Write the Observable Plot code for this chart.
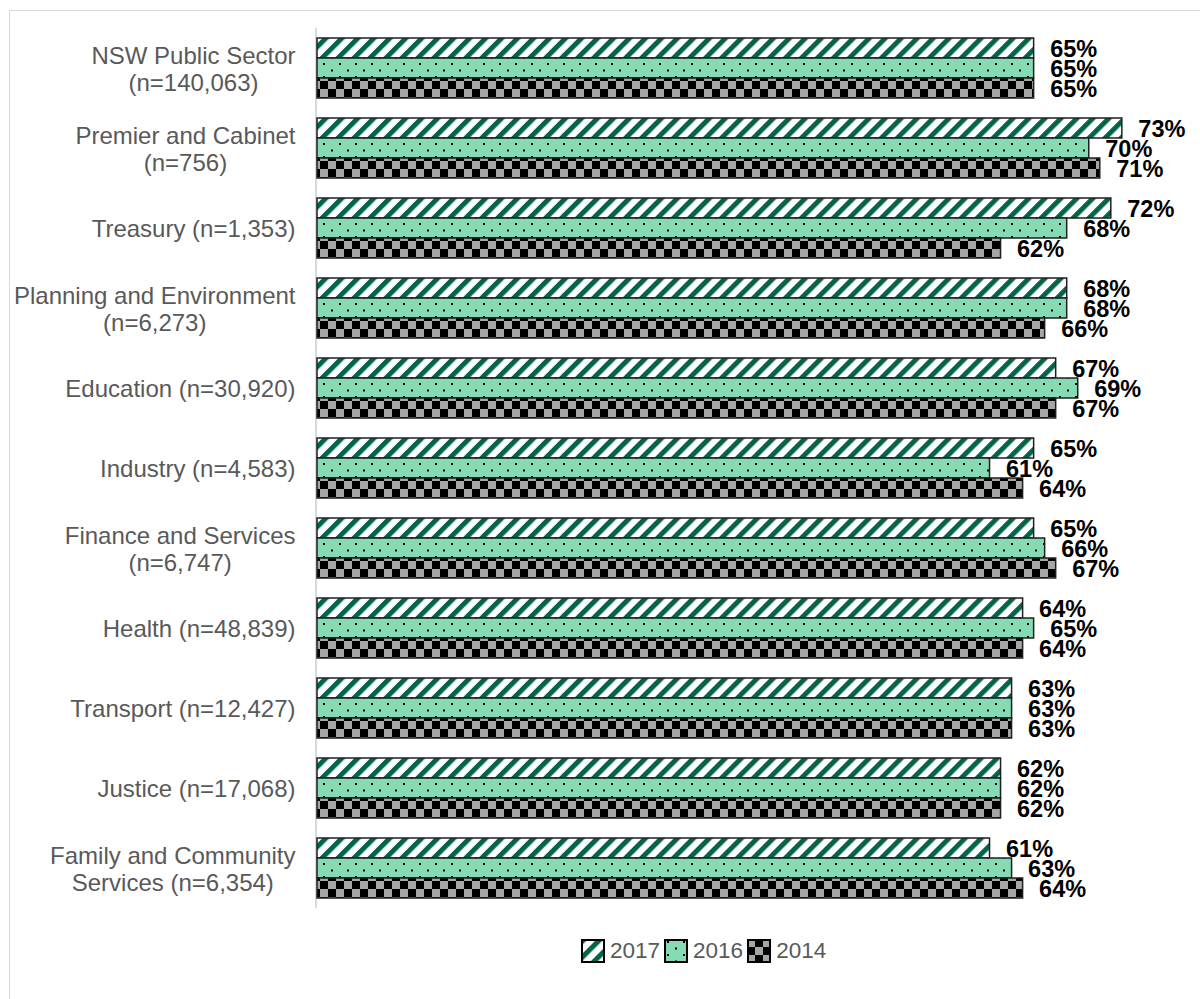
<!DOCTYPE html>
<html>
<head>
<meta charset="utf-8">
<script src="https://cdn.jsdelivr.net/npm/d3@7"></script>
<script src="https://cdn.jsdelivr.net/npm/@observablehq/plot@0.6"></script>
<style>
  html, body { margin: 0; padding: 0; background: #fff; width: 1200px; height: 999px; overflow: hidden; }
  #wrap { position: relative; width: 1200px; height: 999px; font-family: 'Liberation Sans', Arial, sans-serif; }
  #frame { position: absolute; left: 9px; top: 10px; width: 1300px; height: 1100px; border: 1.5px solid #d9d9d9; box-sizing: border-box; }
  #chart { position: absolute; left: 0; top: 0; }
  #legend { position: absolute; left: 581px; top: 939px; display: flex; align-items: center; height: 24px; font-size: 22.5px; color: #595959; }
  #legend span.t { margin-left: 5px; margin-right: 4px; line-height: 24px; }
  #legend svg { display: block; }
</style>
</head>
<body>
<div id="wrap">
  <div id="frame"></div>
  <div id="chart"></div>
  <div id="legend"></div>
</div>
<script>
// ---- data ----
const categories = [
  "NSW Public Sector\n(n=140,063)",
  "Premier and Cabinet\n(n=756)",
  "Treasury (n=1,353)",
  "Planning and Environment\n(n=6,273)",
  "Education (n=30,920)",
  "Industry (n=4,583)",
  "Finance and Services\n(n=6,747)",
  "Health (n=48,839)",
  "Transport (n=12,427)",
  "Justice (n=17,068)",
  "Family and Community\nServices (n=6,354)"
];
const years = ["2017", "2016", "2014"];
const values2017 = [65, 73, 72, 68, 67, 65, 65, 64, 63, 62, 61];
const values2016 = [65, 70, 68, 68, 69, 61, 66, 65, 63, 62, 63];
const values2014 = [65, 71, 62, 66, 67, 64, 67, 64, 63, 62, 64];

const seriesValues = {"2017": values2017, "2016": values2016, "2014": values2014};
const rows = [];
categories.forEach((c, i) => {
  years.forEach(y => rows.push({category: c, year: y, value: seriesValues[y][i]}));
});

const fills = {"2017": "url(#pat2017)", "2016": "url(#pat2016)", "2014": "url(#pat2014)"};
const FONT = "'Liberation Sans', Arial, sans-serif";

// text measurement for centred multi-line category labels (right-aligned block)
const ctx = document.createElement("canvas").getContext("2d");
ctx.font = "24px 'Liberation Sans'";
const labelRight = 295;
const marginLeft = 317;

const labelMarks = categories.map(c => {
  const w = d3.max(c.split("\n"), s => ctx.measureText(s).width);
  return Plot.text([c], {
    fy: d => d,
    text: d => d,
    frameAnchor: "left",
    textAnchor: "middle",
    lineAnchor: "middle",
    lineHeight: 1.12,
    dx: labelRight - w / 2 - marginLeft,
    fontSize: 24,
    fill: "#595959"
  });
});

const plot = Plot.plot({
  width: 1200,
  height: 930,
  marginLeft: marginLeft,
  marginRight: 1,
  marginTop: 28,
  marginBottom: 22,
  style: {fontFamily: FONT, background: "transparent", overflow: "visible"},
  x: {domain: [0, 80], axis: null},
  y: {domain: years, padding: 0, axis: null},
  fy: {domain: categories, paddingInner: 0.225, paddingOuter: 0.1125, axis: null, label: null},
  marks: [
    Plot.ruleX([0], {stroke: "#d9d9d9", strokeWidth: 2, dx: -1.5, insetTop: -9, insetBottom: -9}),
    Plot.barX(rows, {
      x: "value",
      y: "year",
      fy: "category",
      fill: d => fills[d.year],
      stroke: "#1f1f1f",
      strokeWidth: 1.5
    }),
    Plot.text(rows, {
      x: "value",
      y: "year",
      fy: "category",
      text: d => d.value + "%",
      dx: 16,
      dy: 1,
      textAnchor: "start",
      fontWeight: "bold",
      fontSize: 23.5,
      fill: "#000"
    }),
    ...labelMarks
  ]
});

const defs = `
<defs>
  <pattern id="pat2017" patternUnits="userSpaceOnUse" width="11.3" height="11.3" patternTransform="rotate(45)">
    <rect width="11.3" height="11.3" fill="#ffffff"/>
    <rect x="0" y="0" width="5" height="11.3" fill="#00664a"/>
  </pattern>
  <pattern id="pat2016" patternUnits="userSpaceOnUse" width="16" height="13">
    <rect width="16" height="13" fill="#85dcb4"/>
    <rect x="3" y="2" width="2" height="2" fill="#000"/>
    <rect x="11" y="8.5" width="2" height="2" fill="#000"/>
  </pattern>
  <pattern id="pat2014" patternUnits="userSpaceOnUse" width="16" height="16">
    <rect width="16" height="16" fill="#000"/>
    <rect x="0" y="0" width="8" height="8" fill="#a6a6a6"/>
    <rect x="8" y="8" width="8" height="8" fill="#a6a6a6"/>
  </pattern>
</defs>`;
d3.select(plot).insert("g", ":first-child").html(defs);
document.getElementById("chart").appendChild(plot);

// legend
const legend = d3.select("#legend");
years.forEach(y => {
  const s = legend.append("svg").attr("width", 24).attr("height", 24);
  s.append("rect").attr("x", 1).attr("y", 1).attr("width", 22).attr("height", 22)
    .attr("fill", fills[y]).attr("stroke", "#000").attr("stroke-width", 2);
  legend.append("span").attr("class", "t").text(y);
});
</script>
</body>
</html>
